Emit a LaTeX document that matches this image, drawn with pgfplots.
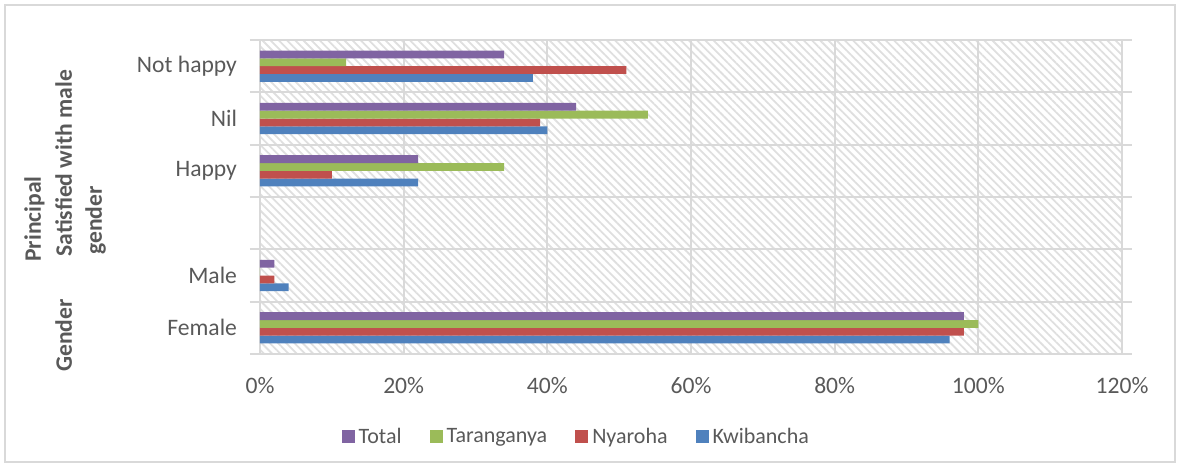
\documentclass[border=0pt]{standalone}
\usepackage{pgfplots}
\pgfplotsset{compat=1.18}
\usepackage{fontspec}
\setmainfont{Carlito}
\usetikzlibrary{patterns.meta}

\definecolor{kwib}{HTML}{4F81BD}
\definecolor{nyar}{HTML}{C0504D}
\definecolor{tara}{HTML}{9BBB59}
\definecolor{totl}{HTML}{8064A2}
\definecolor{gridc}{HTML}{D9D9D9}
\definecolor{txt}{HTML}{595959}

\begin{document}
\begin{tikzpicture}
% whole chart is 1180x467 px, 1px = 0.5pt, plot area lower left at px (260,354)
\path[use as bounding box] (-130pt,-56.5pt) rectangle (460pt,177pt);
\draw[gridc, line width=0.6pt] (-127.5pt,-54pt) rectangle (457.5pt,174.5pt);
\begin{axis}[
    at={(0,0)}, anchor=south west,
    scale only axis, width=431pt, height=157pt,
    xbar, bar width=3.9pt,
    xmin=0, xmax=120, ymin=-0.5, ymax=5.5,
    axis background/.style={pattern={Lines[angle=-45,distance=2.9pt,line width=0.9pt]}, pattern color=gridc!85},
    axis line style={draw=gridc, line width=1pt},
    xtick={0,20,...,120},
    xticklabels={0\%,20\%,40\%,60\%,80\%,100\%,120\%},
    xmajorgrids=true,
    major grid style={draw=gridc, line width=1pt},
    ytick={0,...,5},
    yticklabels={Female,Male,,Happy,Nil,Not happy},
    major tick length=0pt,
    extra y ticks={-0.5,0.5,...,5.5},
    extra y tick labels={},
    extra y tick style={grid=major, major tick length=5pt, tick align=outside, tick style={draw=gridc, line width=1pt}},
    tick label style={font=\fontsize{11.8}{13}\selectfont, text=txt},
    xticklabel style={yshift=-8pt},
    yticklabel style={xshift=-8pt},
    legend style={at={(0.368,-0.264)}, anchor=center, draw=none, fill=none,
        legend columns=4, font=\fontsize{11}{13}\selectfont, text=txt,
        /tikz/every even column/.append style={column sep=12pt}},
    legend image code/.code={\fill[#1] (0pt,-3.25pt) rectangle (6.5pt,3.25pt);},
    reverse legend,
]
\addplot[fill=kwib, draw=none, bar shift=-5.85pt] coordinates {(96,0) (4,1) (22,3) (40,4) (38,5)};
\addlegendentry{Kwibancha}
\addplot[fill=nyar, draw=none, bar shift=-1.95pt] coordinates {(98,0) (2,1) (10,3) (39,4) (51,5)};
\addlegendentry{Nyaroha}
\addplot[fill=tara, draw=none, bar shift=1.95pt] coordinates {(100,0) (0,1) (34,3) (54,4) (12,5)};
\addlegendentry{Taranganya}
\addplot[fill=totl, draw=none, bar shift=5.85pt] coordinates {(98,0) (2,1) (22,3) (44,4) (34,5)};
\addlegendentry{Total}
\end{axis}
\begin{scope}[every node/.style={rotate=90, anchor=base west, inner sep=0pt, text=txt, font=\bfseries\fontsize{11.8}{14}\selectfont}]
\node at (-109.5pt,46pt) {Principal};
\node at (-94pt,48.5pt) {Satisfied with male};
\node at (-79pt,49.5pt) {gender};
\node at (-94pt,-9pt) {Gender};
\end{scope}
\end{tikzpicture}
\end{document}
